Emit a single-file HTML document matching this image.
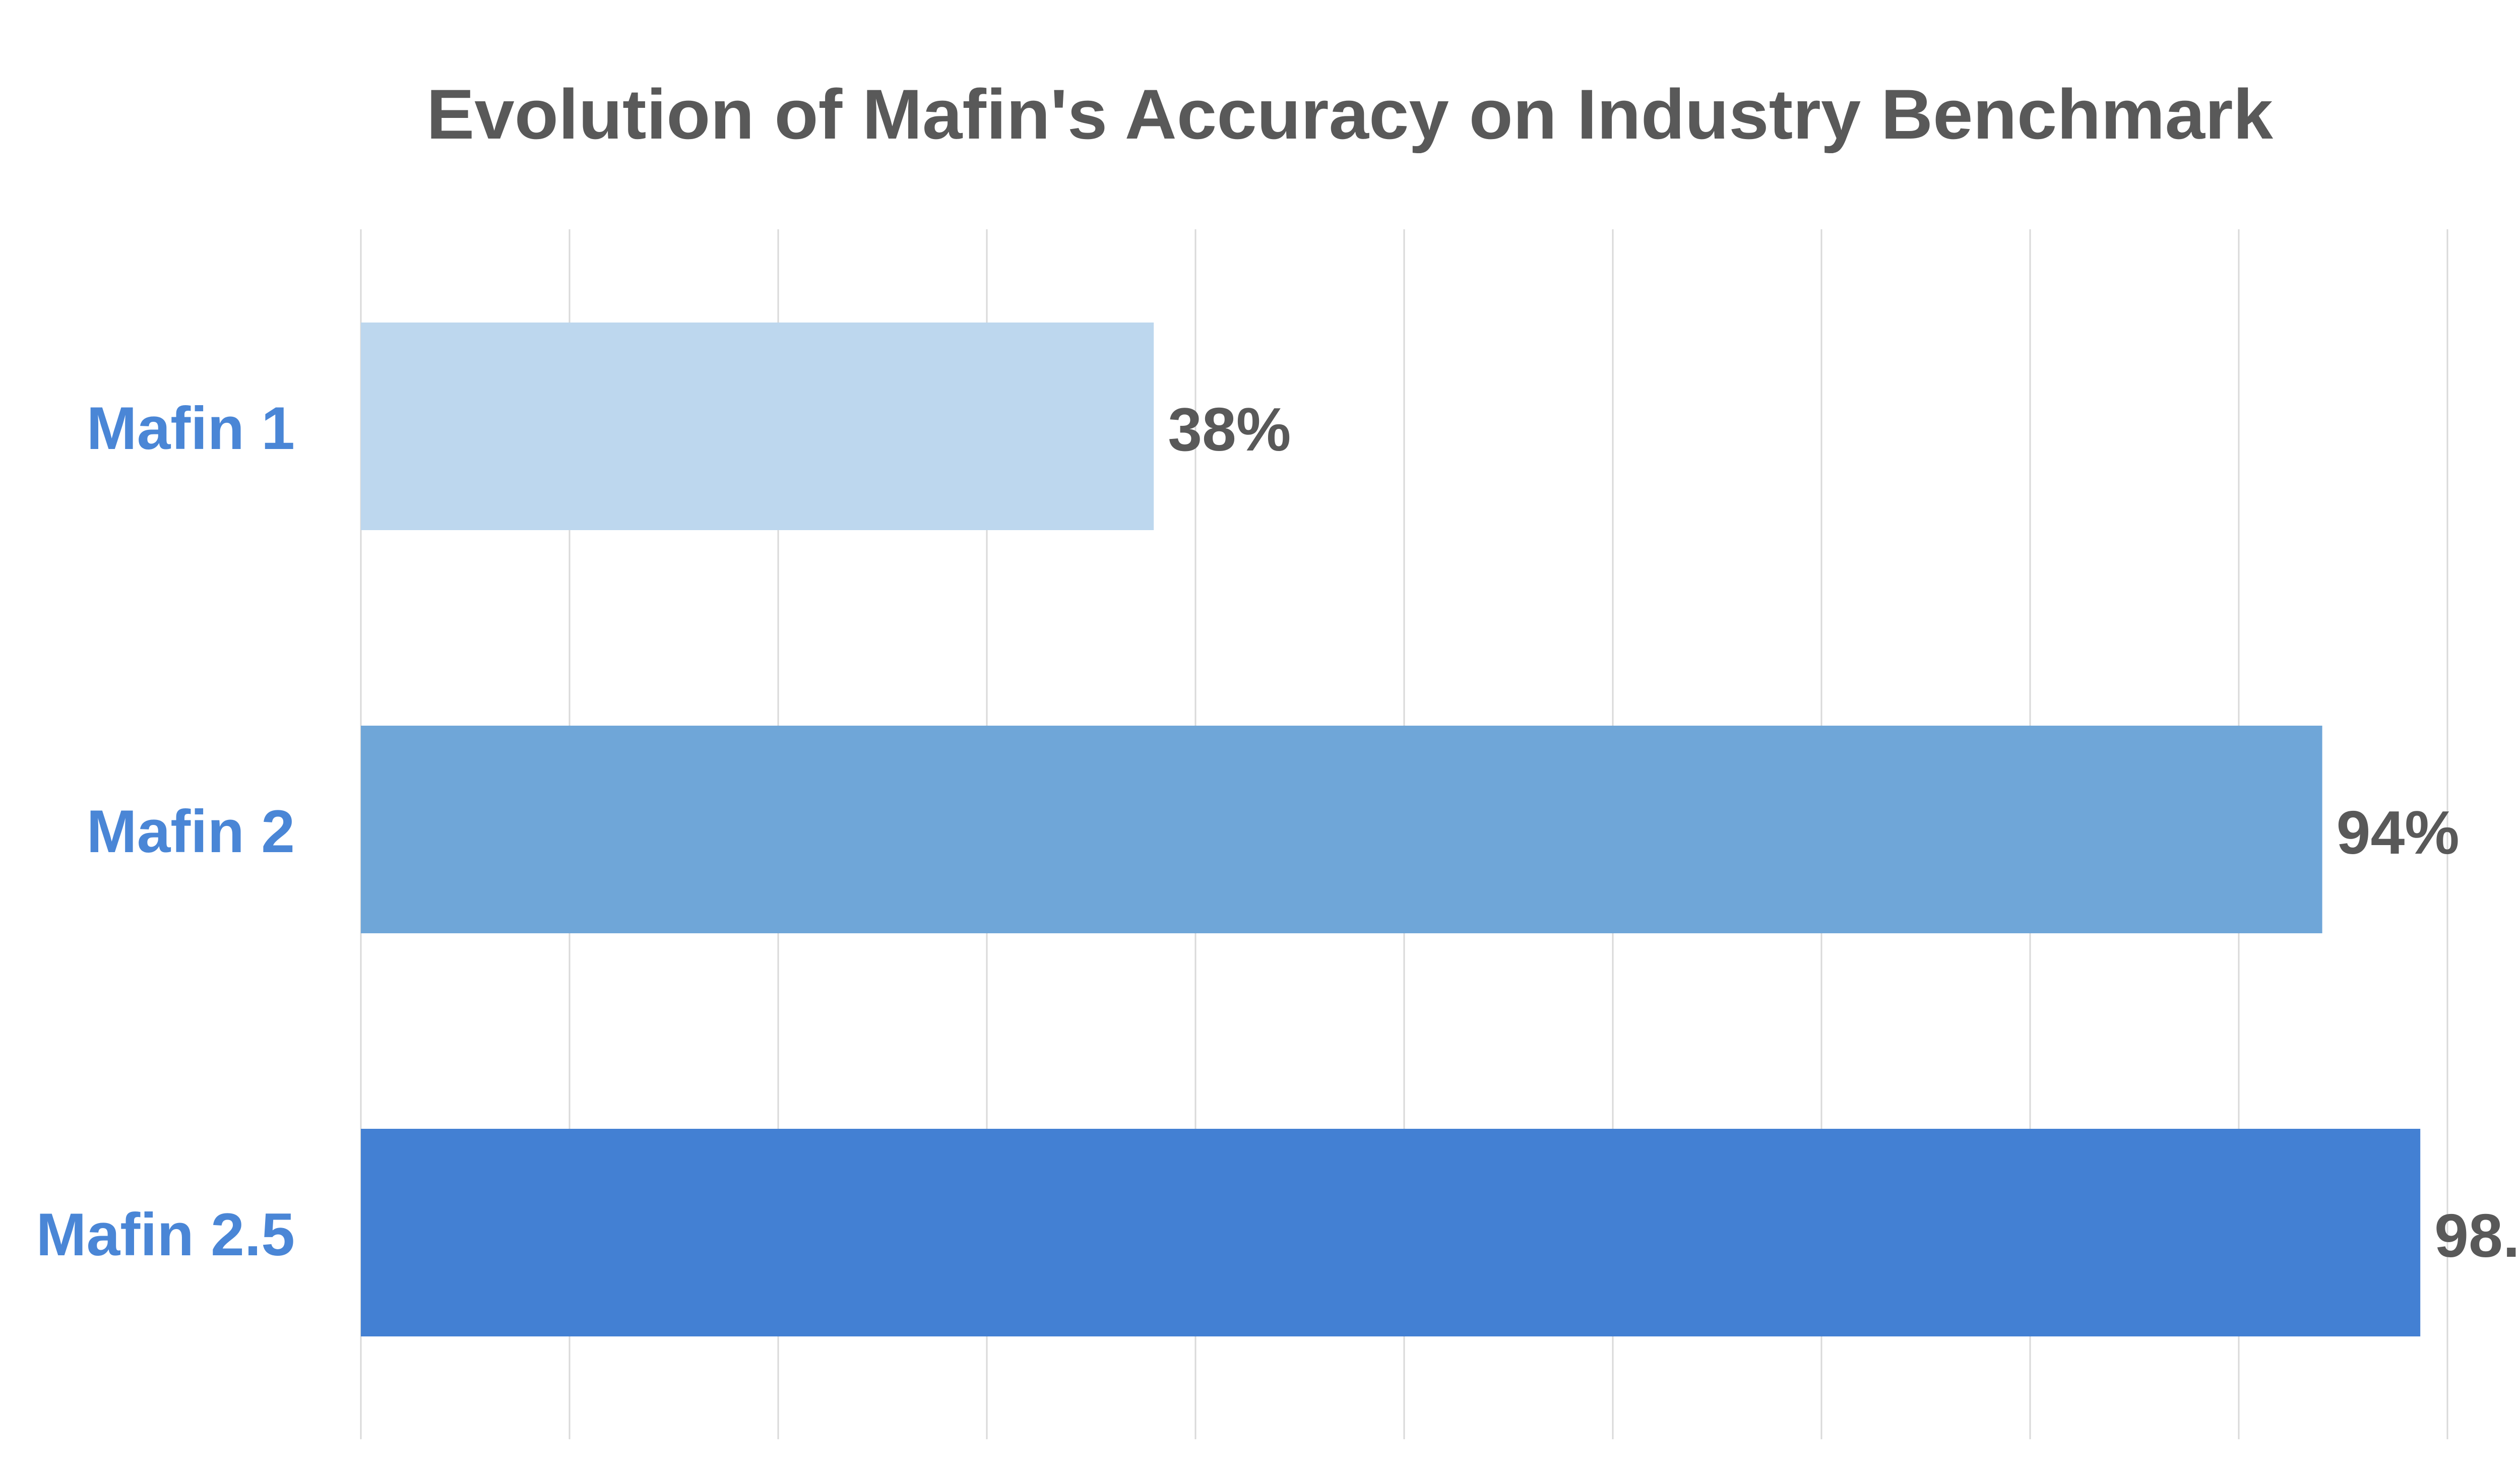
<!DOCTYPE html>
<html><head><meta charset="utf-8"><style>
html,body{margin:0;padding:0;background:#fff;}
svg{display:block;font-family:"Liberation Sans",sans-serif;font-weight:bold;}
</style></head><body>
<svg id="chart" width="5239" height="2927" viewBox="0 0 5239 2927">
<text x="846" y="275" font-size="140" fill="#595959" textLength="3664" lengthAdjust="spacingAndGlyphs">Evolution of Mafin's Accuracy on Industry Benchmark</text>
<g id="grid"></g>
<g id="bars"></g>
</svg>
<script>
const categories = ["Mafin 1", "Mafin 2", "Mafin 2.5"];
const values = [38, 94, 98.7];
const valueLabels = ["38%", "94%", "98.7%"];
const ticks = [0,10,20,30,40,50,60,70,80,90,100];
const colors = ["#BDD7EE", "#6FA6D8", "#4380D3"];
const NS = "http://www.w3.org/2000/svg";
const x0 = 716, x1 = 4856, plotTop = 446, bandH = 800, barH = 412;
const xs = v => x0 + (v / 100) * (x1 - x0);
const ys = i => plotTop + i * bandH;
const grid = document.getElementById('grid');
ticks.forEach(t => {
  const l = document.createElementNS(NS, 'line');
  
  
  l.setAttribute('x1', xs(t)); l.setAttribute('x2', xs(t));
  l.setAttribute('y1', 455); l.setAttribute('y2', 2856);
  l.setAttribute('stroke', '#D9D9D9'); l.setAttribute('stroke-width', 3);
  grid.appendChild(l);
});
const bars = document.getElementById('bars');
categories.forEach((c, i) => {
  const y = ys(i) + (bandH - barH) / 2;
  const r = document.createElementNS(NS, 'rect');
  
  
  r.setAttribute('x', xs(0)); r.setAttribute('y', y);
  r.setAttribute('width', xs(values[i]) - xs(0)); r.setAttribute('height', barH);
  r.setAttribute('fill', colors[i]);
  bars.appendChild(r);
  const lab = document.createElementNS(NS, 'text');
  
  
  lab.setAttribute('x', 585); lab.setAttribute('y', y + barH / 2 + 45);
  lab.setAttribute('text-anchor', 'end'); lab.setAttribute('font-size', 120);
  lab.setAttribute('fill', '#4A86D6');
  lab.textContent = c;
  bars.appendChild(lab);
  const vl = document.createElementNS(NS, 'text');
  
  
  vl.setAttribute('x', xs(values[i]) + 28); vl.setAttribute('y', y + barH / 2 + 48);
  vl.setAttribute('font-size', 122); vl.setAttribute('fill', '#595959');
  vl.textContent = valueLabels[i];
  bars.appendChild(vl);
});
</script>
</body></html>
